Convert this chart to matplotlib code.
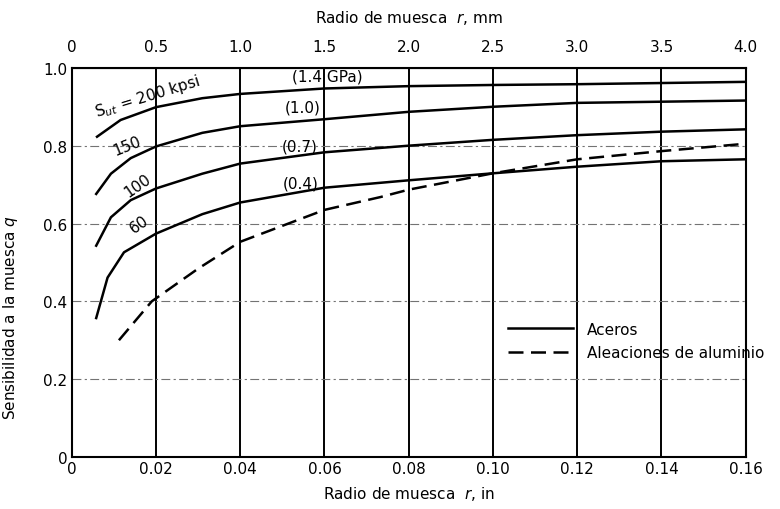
import matplotlib.pyplot as plt
import numpy as np

plt.rcParams['font.family'] = ['DejaVu Sans']

# radio de muesca r (in) y sensibilidad q
r_200 = [0.006, 0.0116, 0.02, 0.031, 0.04, 0.06, 0.08, 0.10, 0.12, 0.14, 0.16]
q_200 = [0.823, 0.866, 0.899, 0.922, 0.933, 0.947, 0.953, 0.956, 0.958, 0.961, 0.964]

r_150 = [0.0058, 0.0093, 0.014, 0.02, 0.031, 0.04, 0.06, 0.08, 0.10, 0.12, 0.14, 0.16]
q_150 = [0.676, 0.728, 0.768, 0.798, 0.833, 0.85, 0.868, 0.887, 0.90, 0.91, 0.913, 0.916]

r_100 = [0.0058, 0.0093, 0.014, 0.02, 0.031, 0.04, 0.06, 0.08, 0.10, 0.12, 0.14, 0.16]
q_100 = [0.543, 0.616, 0.66, 0.69, 0.728, 0.754, 0.783, 0.80, 0.815, 0.827, 0.836, 0.842]

r_60 = [0.0058, 0.0085, 0.0124, 0.02, 0.031, 0.04, 0.06, 0.08, 0.10, 0.12, 0.14, 0.16]
q_60 = [0.357, 0.461, 0.526, 0.574, 0.624, 0.654, 0.692, 0.711, 0.729, 0.746, 0.76, 0.765]

r_al = [0.0112, 0.019, 0.03, 0.04, 0.06, 0.0733, 0.08, 0.10, 0.12, 0.14, 0.16]
q_al = [0.30, 0.40, 0.484, 0.553, 0.635, 0.668, 0.687, 0.729, 0.765, 0.786, 0.805]

x_ticks = [0, 0.02, 0.04, 0.06, 0.08, 0.10, 0.12, 0.14, 0.16]
x_labels = ['0', '0.02', '0.04', '0.06', '0.08', '0.10', '0.12', '0.14', '0.16']
y_ticks = [0, 0.2, 0.4, 0.6, 0.8, 1.0]
y_labels = ['0', '0.2', '0.4', '0.6', '0.8', '1.0']
mm_ticks = [0, 0.5, 1.0, 1.5, 2.0, 2.5, 3.0, 3.5, 4.0]
mm_labels = ['0', '0.5', '1.0', '1.5', '2.0', '2.5', '3.0', '3.5', '4.0']

fig = plt.figure(figsize=(7.8, 5.1), dpi=100)
ax = fig.add_axes([0.092, 0.102, 0.864, 0.763])

# rejilla
for x in x_ticks[1:-1]:
    ax.axvline(x, color='black', lw=1.4, zorder=1)
for y in y_ticks[1:-1]:
    ax.axhline(y, color='0.45', lw=0.8, ls=(0, (8, 3, 2, 3)), zorder=1)

kw = dict(color='black', lw=1.8, zorder=3, solid_joinstyle='round')
ax.plot(r_200, q_200, **kw)
ax.plot(r_150, q_150, **kw)
ax.plot(r_100, q_100, **kw)
ax.plot(r_60, q_60, label='Aceros', **kw)
ax.plot(r_al, q_al, color='black', lw=1.8, ls=(0, (6, 3)), zorder=3,
        label='Aleaciones de aluminio')

fs = 11
ax.text(0.018, 0.928, r'S$_{ut}$ = 200 kpsi', rotation=17, ha='center', va='center', fontsize=fs)
ax.text(0.013, 0.80, '150', rotation=22, ha='center', va='center', fontsize=fs)
ax.text(0.0157, 0.70, '100', rotation=35, ha='center', va='center', fontsize=fs)
ax.text(0.016, 0.60, '60', rotation=35, ha='center', va='center', fontsize=fs)
ax.text(0.0607, 0.978, '(1.4 GPa)', ha='center', va='center', fontsize=fs)
ax.text(0.0548, 0.90, '(1.0)', ha='center', va='center', fontsize=fs)
ax.text(0.054, 0.80, '(0.7)', ha='center', va='center', fontsize=fs)
ax.text(0.0543, 0.705, '(0.4)', ha='center', va='center', fontsize=fs)

ax.legend(loc='upper left', bbox_to_anchor=(0.647, 0.348), frameon=False,
          fontsize=fs, handlelength=4.3, handletextpad=0.9, borderaxespad=0,
          borderpad=0, labelspacing=0.55)

ax.set_xlim(0, 0.16)
ax.set_ylim(0, 1.0)
ax.set_xticks(x_ticks)
ax.set_xticklabels(x_labels, fontsize=fs)
ax.set_yticks(y_ticks)
ax.set_yticklabels(y_labels, fontsize=fs)
ax.tick_params(length=0, pad=3)
for s in ax.spines.values():
    s.set_linewidth(1.5)

ax.set_xlabel('Radio de muesca  $r$, in', fontsize=fs, labelpad=6)
ax.set_ylabel('Sensibilidad a la muesca $q$', fontsize=fs)
ax.yaxis.set_label_coords(-0.077, 0.36)

top = ax.secondary_xaxis('top', functions=(lambda r: r * 25, lambda m: m / 25))
top.set_xticks(mm_ticks)
top.set_xticklabels(mm_labels, fontsize=fs)
top.tick_params(length=0, pad=10)
top.set_xlabel('Radio de muesca  $r$, mm', fontsize=fs, labelpad=12)

fig.savefig('out.png', dpi=100)
